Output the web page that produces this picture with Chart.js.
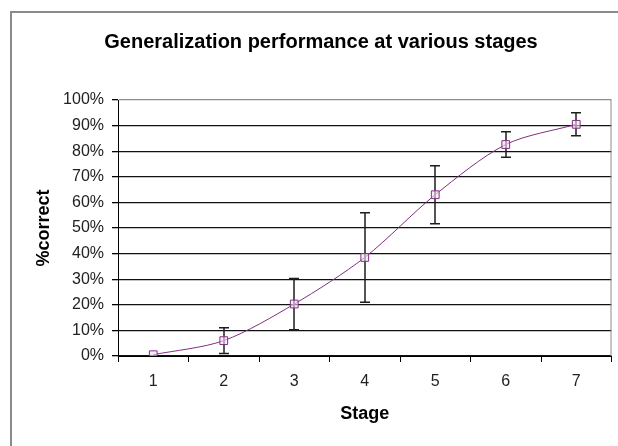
<!DOCTYPE html>
<html><head><meta charset="utf-8">
<script src="https://cdn.jsdelivr.net/npm/chart.js@4/dist/chart.umd.min.js"></script>
<style>
html,body{margin:0;padding:0;background:#fff;overflow:hidden;width:618px;height:446px;}
#frame{position:absolute;left:10px;top:11px;width:700px;height:500px;border-left:2px solid #8a8a8a;border-top:2px solid #8a8a8a;}
#c{position:absolute;left:25px;top:0;}
</style></head><body>
<div id="frame"></div>
<canvas id="c" width="593" height="446"></canvas>
<script>
const stages = ['1', '2', '3', '4', '5', '6', '7'];
const percentCorrect = [0.5, 6, 20.3, 38.5, 63, 82.6, 90.5];
const errorMargin = [0, 5, 10, 17.5, 11.3, 5, 4.5];
const yTickValues = [0, 10, 20, 30, 40, 50, 60, 70, 80, 90, 100];
const chartTitle = 'Generalization performance at various stages';
const xTitle = 'Stage';
const yTitle = '%correct';

const FONT = '"Liberation Sans", Arial, sans-serif';

const errorBars = {
  id: 'errorBars',
  beforeDatasetsDraw(chart) {
    const { ctx, scales: { x, y }, chartArea } = chart;
    ctx.save();
    // plot area right border
    ctx.strokeStyle = '#8c8c8c';
    ctx.lineWidth = 1;
    ctx.beginPath();
    ctx.moveTo(chartArea.right - 0.5, chartArea.top);
    ctx.lineTo(chartArea.right - 0.5, chartArea.bottom);
    ctx.stroke();
    // error bars
    ctx.strokeStyle = '#1e1e1e';
    ctx.lineWidth = 1.5;
    percentCorrect.forEach((v, i) => {
      const e = errorMargin[i];
      if (!e) return;
      const px = Math.round(x.getPixelForValue(i));
      const yt = y.getPixelForValue(v + e);
      const yb = y.getPixelForValue(v - e);
      ctx.beginPath();
      ctx.moveTo(px, yt); ctx.lineTo(px, yb);
      ctx.moveTo(px - 5, yt); ctx.lineTo(px + 5, yt);
      ctx.moveTo(px - 5, yb); ctx.lineTo(px + 5, yb);
      ctx.stroke();
    });
    ctx.restore();
  }
};

new Chart(document.getElementById('c'), {
  type: 'line',
  data: {
    labels: stages,
    datasets: [{
      data: percentCorrect,
      borderColor: '#803080',
      borderWidth: 1,
      tension: 0.3,
      pointStyle: 'rect',
      pointRadius: 5.5,
      pointBorderWidth: 1,
      pointBorderColor: '#803080',
      pointBackgroundColor: 'rgba(245,225,245,0.6)',
      fill: false
    }]
  },
  options: {
    responsive: false,
    animation: false,
    devicePixelRatio: 1,
    layout: { padding: { left: 0, right: 1, top: 0, bottom: 0 } },
    plugins: {
      legend: { display: false },
      tooltip: { enabled: false },
      title: {
        display: true,
        text: chartTitle,
        color: '#000',
        font: { family: FONT, size: 20, weight: 'bold' },
        padding: { top: 30, bottom: 46 }
      }
    },
    scales: {
      x: {
        offset: true,
        afterFit(s) { s.height = 90; },
        grid: { display: true, drawOnChartArea: false, drawTicks: true, tickLength: 6, offset: true, color: '#000', tickColor: '#000' },
        border: { display: true, color: '#000', width: 1 },
        ticks: { color: '#222', padding: 10, font: { family: FONT, size: 16 } },
        title: { display: true, text: xTitle, color: '#000', font: { family: FONT, size: 18, weight: 'bold' }, padding: { top: 0, bottom: 21 } }
      },
      y: {
        min: 0, max: 100,
        afterFit(s) { s.width = 93; },
        afterBuildTicks(s) { s.ticks = yTickValues.map(v => ({ value: v })); },
        grid: {
          color: (c) => (c.tick && c.tick.value === 100 ? '#8c8c8c' : '#111'),
          tickColor: '#000',
          lineWidth: 1.3,
          tickLength: 6,
          drawTicks: true
        },
        border: { display: true, color: '#000', width: 1 },
        ticks: { color: '#222', padding: 8, font: { family: FONT, size: 16 }, callback: (v) => v + '%' },
        title: { display: true, text: yTitle, color: '#000', font: { family: FONT, size: 18, weight: 'bold' }, padding: { top: 8, bottom: 0 } }
      }
    }
  },
  plugins: [errorBars]
});
</script>
</body></html>
